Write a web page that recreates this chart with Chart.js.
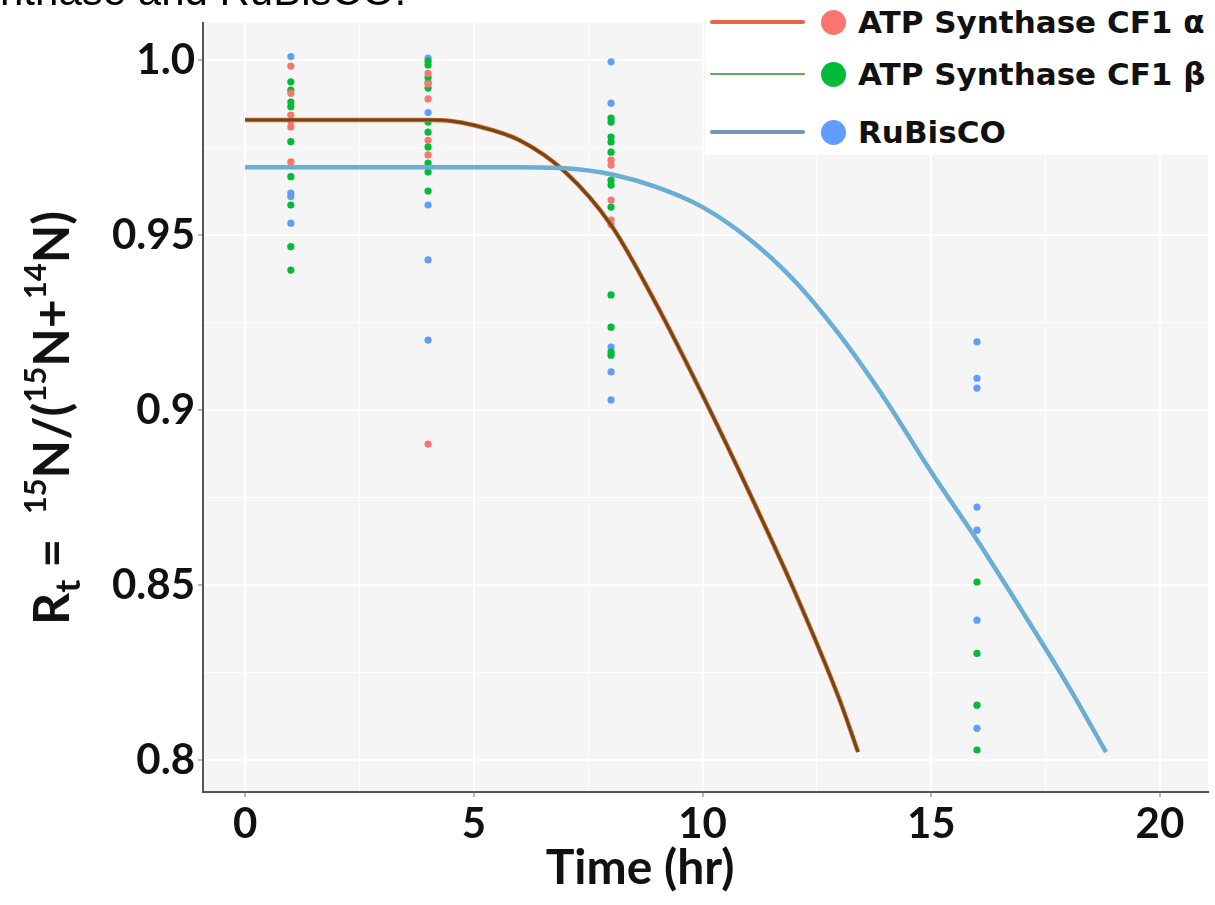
<!DOCTYPE html>
<html>
<head>
<meta charset="utf-8">
<script src="https://cdn.jsdelivr.net/npm/chart.js@4.4.1/dist/chart.umd.min.js"></script>
<style>
html,body{margin:0;padding:0;background:#fff;overflow:hidden}
#wrap{position:relative;width:1215px;height:905px;overflow:hidden}
#c{position:absolute;left:0;top:0}
#caption{position:absolute;left:0;top:-30px;font:42px/42px "Liberation Sans",Arial,sans-serif;color:#000;white-space:nowrap}
#legend{position:absolute;left:705px;top:0;width:510px;height:155px;background:#fff;font:bold 31px "DejaVu Sans",sans-serif;color:#111}
.row{position:absolute;left:0;height:40px;display:flex;align-items:center;white-space:nowrap}
.ln{width:95px;margin-left:5px;border-radius:2px}
.dot{width:25px;height:25px;border-radius:50%;margin-left:16px;margin-right:12px}
.atitle{position:absolute;font-family:Lato,"Liberation Sans",sans-serif;font-weight:bold;color:#111;white-space:nowrap}
#xtitle{left:640px;top:865px;transform:translate(-50%,-50%);font-size:48px}
#ytitle{left:50px;top:418px;transform:translate(-50%,-50%) rotate(-90deg);font-size:50px}
#ytitle sup{font-size:31px;vertical-align:0.75em;line-height:0}
#ytitle sub{font-size:35px;vertical-align:-0.3em;line-height:0}
</style>
</head>
<body>
<div id="wrap">
<canvas id="c" width="1215" height="905"></canvas>
<div id="caption">nthase and RuBisCO.</div>
<div id="legend"></div>
<div id="xtitle" class="atitle">Time (hr)</div>
<div id="ytitle" class="atitle">R<sub>t</sub> = &nbsp;<sup>15</sup>N/(<sup>15</sup>N+<sup>14</sup>N)</div>
</div>
<script>
// ---------- data ----------
const seriesNames = ["ATP Synthase CF1 α", "ATP Synthase CF1 β", "RuBisCO"];
const pointColors = ["#F8766D", "#00BA38", "#619CFF"];
const legendLineColors = ["#E8644A", "#5DAA5D", "#6F97B6"];
const legendLineWidths = [4, 2.5, 4];

const sampleTimes = [1, 4, 8, 16];

// measured ratios per sample time (t = 1, 4, 8, 16)
const alphaValues = [
  [0.9983, 0.9905, 0.9843, 0.9826, 0.9809, 0.9709],
  [0.9962, 0.9932, 0.9889, 0.9771, 0.9729, 0.8903],
  [0.9714, 0.9700, 0.9600, 0.9543, 0.9530],
  []
];
const betaValues = [
  [0.9938, 0.9914, 0.9880, 0.9867, 0.9767, 0.9667, 0.9586, 0.9467, 0.9400],
  [0.9997, 0.9986, 0.9950, 0.9935, 0.9920, 0.9823, 0.9794, 0.9752, 0.9706, 0.9680, 0.9626],
  [0.9834, 0.9823, 0.9780, 0.9766, 0.9737, 0.9657, 0.9643, 0.9580, 0.9329, 0.9237, 0.9166, 0.9157],
  [0.8509, 0.8305, 0.8157, 0.8029]
];
const rubiscoValues = [
  [1.0010, 0.9620, 0.9610, 0.9534],
  [1.0006, 0.9850, 0.9694, 0.9586, 0.9429, 0.9200],
  [0.9995, 0.9877, 0.9180, 0.9109, 0.9029],
  [0.9195, 0.9091, 0.9063, 0.8723, 0.8657, 0.8400, 0.8091]
];

// fitted curves
const atpCurveT = [0, 2, 4, 4.5, 5, 6, 7, 8, 9, 10, 11, 12, 13, 13.4];
const atpCurveV = [0.9829, 0.9829, 0.9829, 0.9826, 0.9814, 0.9771, 0.9680, 0.9529, 0.9300, 0.9043, 0.8771, 0.8486, 0.8171, 0.8023];
const rubCurveT = [0, 3, 6, 7, 8, 9, 10, 11, 12, 13, 14, 15, 16, 17, 18, 18.82];
const rubCurveV = [0.9694, 0.9694, 0.9694, 0.9691, 0.9674, 0.9637, 0.9580, 0.9491, 0.9371, 0.9214, 0.9029, 0.8823, 0.8629, 0.8423, 0.8211, 0.8023];

// axes
const xMajorTicks = [0, 5, 10, 15, 20];
const xMinorTicks = [2.5, 7.5, 12.5, 17.5];
const yMajorTicks = [0.8, 0.85, 0.9, 0.95, 1.0];
const yTickLabels = ["0.8", "0.85", "0.9", "0.95", "1.0"];
const yMinorTicks = [0.825, 0.875, 0.925, 0.975];

// ---------- build ----------
const toPoints = (vals) => {
  const out = [];
  vals.forEach((arr, i) => arr.forEach(v => out.push({x: sampleTimes[i], y: v})));
  return out;
};
const toCurve = (ts, vs) => ts.map((t, i) => ({x: t, y: vs[i]}));

const pointDs = (vals, color, label) => ({
  label, data: toPoints(vals), showLine: false,
  pointRadius: 3.6, pointHoverRadius: 3.6, pointBorderWidth: 0,
  backgroundColor: color, borderColor: color, order: 10
});

const datasets = [
  pointDs(alphaValues, pointColors[0], seriesNames[0]),
  pointDs(betaValues, pointColors[1], seriesNames[1]),
  pointDs(rubiscoValues, pointColors[2], seriesNames[2]),
  { label: seriesNames[0] + " fit", data: toCurve(atpCurveT, atpCurveV), showLine: true,
    borderColor: "#E8603C", borderWidth: 4.5, pointRadius: 0, cubicInterpolationMode: "monotone", order: 3 },
  { label: seriesNames[1] + " fit", data: toCurve(atpCurveT, atpCurveV), showLine: true,
    borderColor: "rgba(60,70,0,0.75)", borderWidth: 2.8, pointRadius: 0, cubicInterpolationMode: "monotone", order: 2 },
  { label: seriesNames[2] + " fit", data: toCurve(rubCurveT, rubCurveV), showLine: true,
    borderColor: "#6AADD5", borderWidth: 4.5, pointRadius: 0, cubicInterpolationMode: "monotone", order: 1 }
];

const isMajor = (list, v) => list.some(m => Math.abs(m - v) < 1e-6);
const tickFont = {family: 'Lato,"Liberation Sans",sans-serif', size: 42, weight: "bold"};

const bgPlugin = {
  id: "plotBg",
  beforeDraw(chart) {
    const {ctx, chartArea: a} = chart;
    ctx.save();
    ctx.fillStyle = "#F5F5F5";
    ctx.fillRect(a.left, a.top, a.right - a.left, a.bottom - a.top);
    ctx.restore();
  }
};

new Chart(document.getElementById("c"), {
  type: "scatter",
  data: { datasets },
  plugins: [bgPlugin],
  options: {
    responsive: false,
    animation: false,
    events: [],
    layout: { padding: { top: 23, right: 7, left: 0, bottom: 0 } },
    plugins: { legend: { display: false }, tooltip: { enabled: false } },
    scales: {
      x: {
        type: "linear", min: -0.92, max: 21.05,
        afterBuildTicks: s => { s.ticks = xMajorTicks.concat(xMinorTicks).sort((a, b) => a - b).map(v => ({value: v})); },
        afterFit: s => { s.height = 113; s.paddingLeft = 0; s.paddingRight = 0; },
        ticks: {
          autoSkip: false, maxRotation: 0, padding: 2, color: "#111", font: tickFont,
          callback: v => isMajor(xMajorTicks, v) ? String(v) : ""
        },
        grid: {
          color: c => "#FFFFFF",
          lineWidth: c => (c.tick && isMajor(xMajorTicks, c.tick.value)) ? 2 : 1,
          tickColor: c => (c.tick && isMajor(xMajorTicks, c.tick.value)) ? "#BBBBBB" : "rgba(0,0,0,0)",
          tickLength: 5, drawTicks: true
        },
        border: { display: true, color: "#555", width: 2 }
      },
      y: {
        type: "linear", min: 0.7909, max: 1.0106,
        afterBuildTicks: s => { s.ticks = yMajorTicks.concat(yMinorTicks).sort((a, b) => a - b).map(v => ({value: v})); },
        afterFit: s => { s.width = 203; s.paddingTop = 0; s.paddingBottom = 0; },
        ticks: {
          autoSkip: false, padding: 3, color: "#111", font: tickFont,
          callback: v => {
            const i = yMajorTicks.findIndex(m => Math.abs(m - v) < 1e-6);
            return i >= 0 ? yTickLabels[i] : "";
          }
        },
        grid: {
          color: c => "#FFFFFF",
          lineWidth: c => (c.tick && isMajor(yMajorTicks, c.tick.value)) ? 2 : 1,
          tickColor: c => (c.tick && isMajor(yMajorTicks, c.tick.value)) ? "#BBBBBB" : "rgba(0,0,0,0)",
          tickLength: 5, drawTicks: true
        },
        border: { display: true, color: "#555", width: 2 }
      }
    }
  }
});

// ---------- legend (HTML) ----------
const legend = document.getElementById("legend");
const rowCenters = [22, 74, 132];
seriesNames.forEach((name, i) => {
  const row = document.createElement("div");
  row.className = "row";
  row.style.top = (rowCenters[i] - 20) + "px";
  const ln = document.createElement("div");
  ln.className = "ln";
  ln.style.height = legendLineWidths[i] + "px";
  ln.style.background = legendLineColors[i];
  const dot = document.createElement("div");
  dot.className = "dot";
  dot.style.background = pointColors[i];
  const tx = document.createElement("span");
  tx.textContent = name;
  row.appendChild(ln); row.appendChild(dot); row.appendChild(tx);
  legend.appendChild(row);
});
</script>
</body>
</html>
